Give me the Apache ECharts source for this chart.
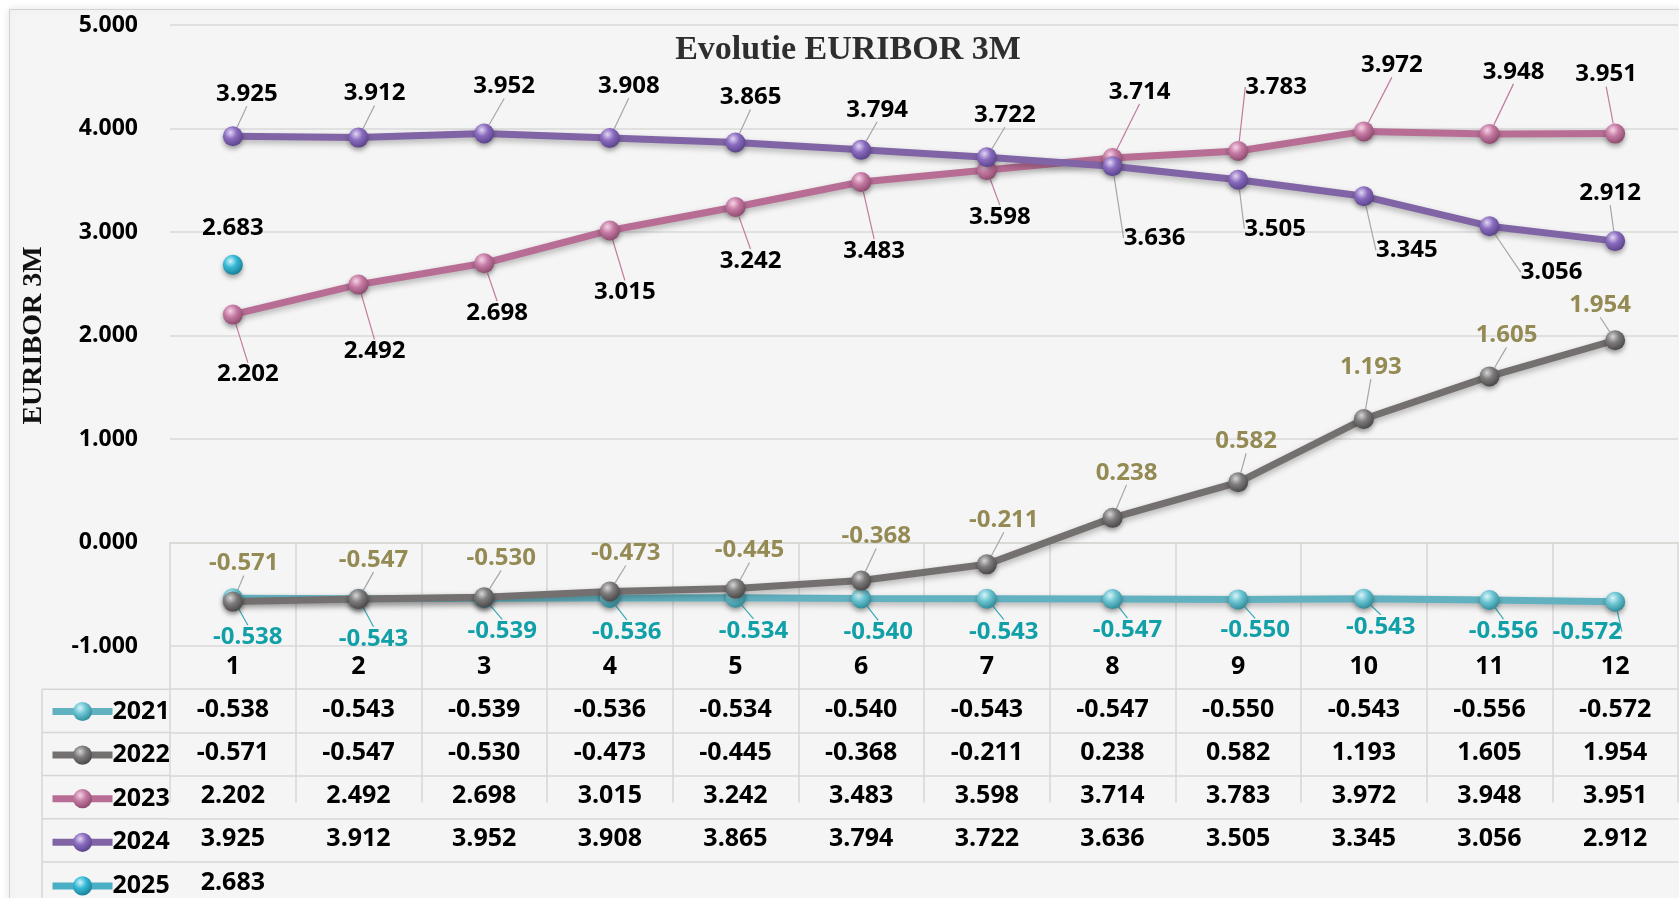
<!DOCTYPE html>
<html>
<head>
<meta charset="utf-8">
<title>Evolutie EURIBOR 3M</title>
<script src="https://cdn.jsdelivr.net/npm/echarts@6/dist/echarts.min.js"></script>
<style>
  html, body { margin: 0; padding: 0; background: #ffffff; }
  #chart { width: 1679px; height: 898px; }
</style>
</head>
<body>
<div id="chart"></div>
<script>
// Months of the year (category axis)
const months = ['1', '2', '3', '4', '5', '6', '7', '8', '9', '10', '11', '12'];
const years = ['2021', '2022', '2023', '2024', '2025'];

// EURIBOR 3M monthly values, by year
const euribor2021 = [-0.538, -0.543, -0.539, -0.536, -0.534, -0.540, -0.543, -0.547, -0.550, -0.543, -0.556, -0.572];
const euribor2022 = [-0.571, -0.547, -0.530, -0.473, -0.445, -0.368, -0.211, 0.238, 0.582, 1.193, 1.605, 1.954];
const euribor2023 = [2.202, 2.492, 2.698, 3.015, 3.242, 3.483, 3.598, 3.714, 3.783, 3.972, 3.948, 3.951];
const euribor2024 = [3.925, 3.912, 3.952, 3.908, 3.865, 3.794, 3.722, 3.636, 3.505, 3.345, 3.056, 2.912];
const euribor2025 = [2.683, null, null, null, null, null, null, null, null, null, null, null];

// Value axis ticks
const yMin = -1, yMax = 5, yStep = 1;

// Callout offsets (px) of each value label from its point
const shift2021 = [[15,39],[15,40],[18,33],[17,34],[18,33],[17,34],[17,33],[15,31],[17,31],[17,28],[14,31],[-28,30]];
const shift2022 = [[11,-38],[15,-39],[17,-39],[16,-38],[14,-38],[15,-44],[17,-44],[14,-45],[8,-41],[7,-52],[17,-41],[-15,-35]];
const shift2023 = [[15,60],[16,67],[13,50],[15,62],[15,54],[13,69],[13,47],[27,-66],[38,-64],[28,-66],[24,-62],[-9,-59]];
const shift2024 = [[14,-42],[16,-44],[20,-47],[19,-52],[15,-45],[16,-40],[18,-42],[42,72],[37,49],[43,54],[62,46],[-5,-48]];
const shift2025 = [[0,-37]];

const fmt = v => (v === null || v === undefined) ? '' : v.toFixed(3);

const FONT = '"Open Sans", Lato, sans-serif';
const AXIS_SIZE = 23;
const LABEL_SIZE = 24;
const TABLE_SIZE = 25;
const SERIF = '"Liberation Serif", "DejaVu Serif", serif';

function sphere(light, base, dark) {
  return new echarts.graphic.RadialGradient(0.38, 0.32, 0.7, [
    { offset: 0, color: light },
    { offset: 0.45, color: base },
    { offset: 1, color: dark }
  ]);
}

function lineSeries(name, values, shifts, lineColor, ball, labelColor, guideColor, showGuide) {
  return {
    name: name,
    type: 'line',
    data: values,
    symbol: 'circle',
    symbolSize: 20,
    showAllSymbol: true,
    connectNulls: false,
    lineStyle: {
      color: lineColor, width: 7,
      shadowColor: 'rgba(0,0,0,0.28)', shadowBlur: 6, shadowOffsetY: 3
    },
    itemStyle: {
      color: sphere(ball[0], ball[1], ball[2]),
      borderWidth: 0,
      shadowColor: 'rgba(0,0,0,0.35)', shadowBlur: 5, shadowOffsetY: 3
    },
    label: {
      show: true,
      position: 'inside',
      formatter: p => fmt(p.value),
      color: labelColor,
      fontFamily: FONT,
      fontWeight: 'bold',
      fontSize: LABEL_SIZE
    },
    labelLine: {
      show: showGuide,
      lineStyle: { color: guideColor, width: 1.2 }
    },
    labelLayout: p => {
      const s = shifts[p.dataIndex] || [0, 0];
      return { dx: s[0], dy: s[1] };
    },
    emphasis: { disabled: true },
    animation: false
  };
}

// One bottom axis per table row; the category scale places each value under its month
const ROW_H = 43.2;
function tableRow(values, k) {
  return {
    type: 'category',
    gridIndex: 0,
    position: 'bottom',
    offset: Math.round(ROW_H * k * 10) / 10,
    data: values.map(fmt),
    boundaryGap: true,
    axisLine: { show: true, lineStyle: { color: '#d6d6d6', width: 1.5 } },
    axisTick: { show: false },
    splitLine: { show: false },
    axisLabel: {
      interval: 0, margin: 8,
      color: '#000', fontFamily: FONT, fontWeight: 'bold', fontSize: TABLE_SIZE
    }
  };
}

const chart = echarts.init(document.getElementById('chart'), null, { renderer: 'canvas' });

const gridLeft = 170, gridTop = 25, gridBottom = 252, gridRight = 1;
const tableTop = 898 - gridBottom;
const legendLeft = 42;

// Chart panel and legend column borders of the data table
const tableGraphics = [
  {
    type: 'rect', z: -10, silent: true,
    shape: { x: 9.5, y: 9.5, width: 1700, height: 900 },
    style: { fill: '#f5f5f5', stroke: '#d2d2d2', lineWidth: 1, shadowColor: 'rgba(0,0,0,0.12)', shadowBlur: 8 }
  },
  {
    type: 'line', silent: true, z: 5,
    shape: { x1: legendLeft, y1: tableTop + ROW_H, x2: legendLeft, y2: 898 },
    style: { stroke: '#d6d6d6', lineWidth: 1.5 }
  }
];
for (let k = 1; k <= 5; k++) {
  const y = tableTop + ROW_H * k;
  tableGraphics.push({
    type: 'line', silent: true, z: 5,
    shape: { x1: legendLeft, y1: y, x2: gridLeft, y2: y },
    style: { stroke: '#d6d6d6', lineWidth: 1.5 }
  });
}

const option = {
  backgroundColor: '#ffffff',
  animation: false,
  title: {
    text: 'Evolutie EURIBOR 3M',
    left: 843, top: 28, textAlign: 'center',
    textStyle: { fontFamily: SERIF, fontWeight: 'bold', fontSize: 34, color: '#2e2e2e' }
  },
  legend: {
    data: years,
    orient: 'vertical',
    left: 44, top: 694, height: 260,
    itemWidth: 60, itemHeight: 24, itemGap: 18.6,
    selectedMode: false,
    lineStyle: { width: 7 },
    textStyle: { fontFamily: FONT, fontWeight: 'bold', fontSize: TABLE_SIZE, color: '#000', lineHeight: 24, padding: [0, 0, 0, -5] }
  },
  graphic: tableGraphics,
  grid: { left: gridLeft, right: gridRight, top: gridTop, bottom: gridBottom, containLabel: false },
  yAxis: {
    type: 'value',
    min: yMin, max: yMax, interval: yStep,
    name: 'EURIBOR 3M',
    nameLocation: 'middle',
    nameRotate: 90,
    nameGap: 122,
    nameTextStyle: { fontFamily: SERIF, fontWeight: 'bold', fontSize: 28, color: '#111' },
    axisLine: { show: false },
    axisTick: { show: false },
    axisLabel: { formatter: v => v.toFixed(3), margin: 32, color: '#000', fontFamily: FONT, fontWeight: 'bold', fontSize: AXIS_SIZE },
    splitLine: {
      show: true,
      lineStyle: { color: ['#d9d9d9', '#ddd9c3', '#d9d9d9', '#d9d9d9', '#d9d9d9', '#d9d9d9', '#d9d9d9'], width: 1.5 }
    }
  },
  xAxis: [
    {
      type: 'category',
      data: months,
      boundaryGap: true,
      position: 'bottom',
      axisLine: { show: true, lineStyle: { color: '#d6d6d6', width: 1.5 } },
      axisTick: { show: true, interval: 0, length: 260, lineStyle: { color: '#d6d6d6', width: 1.5 } },
      axisLabel: { interval: 0, margin: 8, color: '#000', fontFamily: FONT, fontWeight: 'bold', fontSize: TABLE_SIZE },
      splitLine: { show: false }
    },
    tableRow(euribor2021, 1),
    tableRow(euribor2022, 2),
    tableRow(euribor2023, 3),
    tableRow(euribor2024, 4),
    tableRow(euribor2025, 5)
  ],
  series: [
    lineSeries('2021', euribor2021, shift2021, '#62b1c0', ['#d8f4f8', '#6cc4d2', '#2f8b99'], '#12a0a8', '#3aa9b5', true),
    lineSeries('2022', euribor2022, shift2022, '#757070', ['#d6d6d6', '#7d7b7b', '#4a4747'], '#948a54', '#a6a6a6', true),
    lineSeries('2023', euribor2023, shift2023, '#b86d95', ['#f6d3e6', '#c57aa3', '#8d4a6d'], '#000000', '#c27a9f', true),
    lineSeries('2024', euribor2024, shift2024, '#8064a6', ['#e2d6f4', '#8a6bbf', '#5a4389'], '#000000', '#a6a6a6', true),
    lineSeries('2025', euribor2025, shift2025, '#4aaec4', ['#d2f4fb', '#35b8d6', '#1a7f98'], '#000000', '#a6a6a6', false)
  ]
};

chart.setOption(option);
</script>
</body>
</html>
